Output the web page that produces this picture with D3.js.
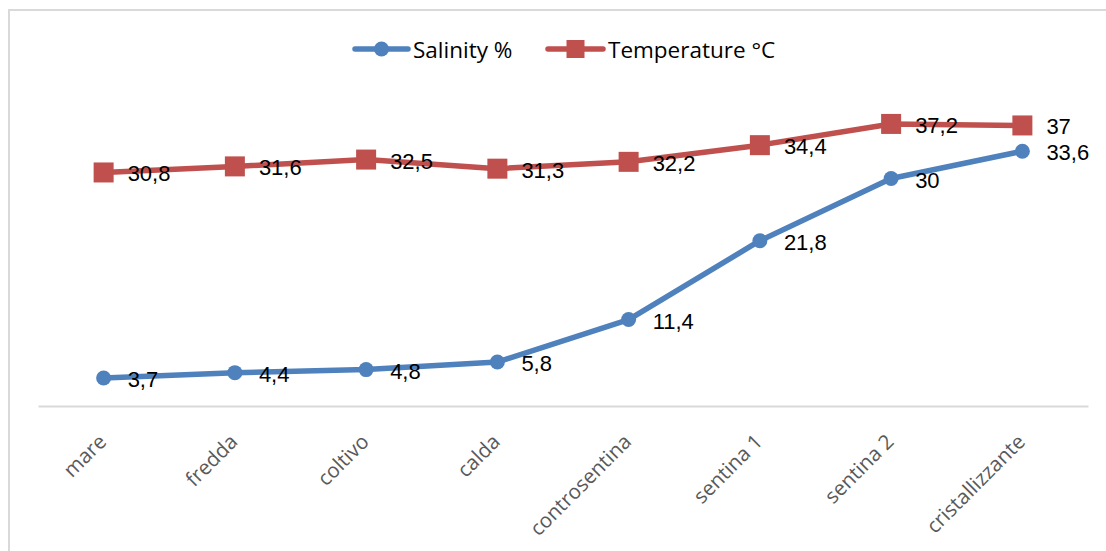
<!DOCTYPE html>
<html>
<head>
<meta charset="utf-8">
<script src="https://cdn.jsdelivr.net/npm/d3@7"></script>
<style>
  html, body { margin: 0; padding: 0; background: #fff; }
  svg { display: block; }
</style>
</head>
<body>
<svg id="chart" width="1106" height="551"></svg>
<script>
const categories = ["mare", "fredda", "coltivo", "calda", "controsentina", "sentina 1", "sentina 2", "cristallizzante"];
const salinity = [3.7, 4.4, 4.8, 5.8, 11.4, 21.8, 30, 33.6];
const temperature = [30.8, 31.6, 32.5, 31.3, 32.2, 34.4, 37.2, 37];
const seriesNames = ["Salinity %", "Temperature °C"];
const seriesColors = ["#4F81BD", "#C0504D"];

const svg = d3.select("#chart");
const W = 1106, H = 551;

// outer border
svg.append("rect")
  .attr("x", 9).attr("y", 10).attr("width", W + 10).attr("height", H + 10)
  .attr("fill", "none").attr("stroke", "#d9d9d9").attr("stroke-width", 2);

const x = d3.scaleBand().domain(categories).range([38, 1088]);
const y = d3.scaleLinear().domain([0, 40]).range([406, 102.7]);
const cx = c => x(c) + x.bandwidth() / 2;

// category axis
const xAxis = d3.axisBottom(x).tickSize(0).tickPadding(0);
const gx = svg.append("g").attr("transform", `translate(0,${y(0)})`).call(xAxis);
gx.select(".domain").attr("stroke", "#d9d9d9").attr("stroke-width", 2);
gx.selectAll(".tick text")
  .attr("font-family", "'Open Sans', sans-serif")
  .attr("font-size", 20.5)
  .attr("fill", "#595959")
  .attr("text-anchor", "end")
  .attr("dy", 0)
  .attr("transform", "translate(4,37) rotate(-45)");

const fmt = v => String(v).replace(".", ",");

const series = [
  { name: seriesNames[0], values: salinity, color: seriesColors[0], marker: "circle" },
  { name: seriesNames[1], values: temperature, color: seriesColors[1], marker: "square" }
];

const line = d3.line().x(d => cx(d.c)).y(d => y(d.v));

series.forEach(s => {
  const pts = categories.map((c, i) => ({ c, v: s.values[i] }));
  const g = svg.append("g");
  g.append("path").datum(pts)
    .attr("fill", "none").attr("stroke", s.color).attr("stroke-width", 5.5)
    .attr("stroke-linejoin", "round").attr("stroke-linecap", "round")
    .attr("d", line);
  if (s.marker === "circle") {
    g.selectAll("circle").data(pts).join("circle")
      .attr("cx", d => cx(d.c)).attr("cy", d => y(d.v)).attr("r", 7.5)
      .attr("fill", s.color);
  } else {
    g.selectAll("rect").data(pts).join("rect")
      .attr("x", d => cx(d.c) - 10).attr("y", d => y(d.v) - 10)
      .attr("width", 20).attr("height", 20)
      .attr("fill", s.color);
  }
  g.selectAll("text").data(pts).join("text")
    .attr("x", d => cx(d.c) + 24).attr("y", d => y(d.v) + 1.5)
    .attr("dominant-baseline", "central")
    .attr("font-family", "'Liberation Sans', Arial, sans-serif")
    .attr("font-size", 22)
    .attr("fill", "#000")
    .text(d => fmt(d.v));
});

// legend
const legendItems = [
  { x0: 355, x1: 408, tx: 413, s: series[0] },
  { x0: 548, x1: 603, tx: 608, s: series[1] }
];
const ly = 49;
legendItems.forEach(it => {
  const g = svg.append("g");
  g.append("line").attr("x1", it.x0).attr("x2", it.x1).attr("y1", ly).attr("y2", ly)
    .attr("stroke", it.s.color).attr("stroke-width", 5.5).attr("stroke-linecap", "round");
  const mx = (it.x0 + it.x1) / 2;
  if (it.s.marker === "circle") {
    g.append("circle").attr("cx", mx).attr("cy", ly).attr("r", 7.5).attr("fill", it.s.color);
  } else {
    g.append("rect").attr("x", mx - 9).attr("y", ly - 9).attr("width", 18).attr("height", 18).attr("fill", it.s.color);
  }
  g.append("text").attr("x", it.tx).attr("y", ly)
    .attr("dominant-baseline", "central")
    .attr("font-family", "'Open Sans', sans-serif")
    .attr("font-size", 22.5)
    .attr("fill", "#000")
    .text(it.s.name);
});
</script>
</body>
</html>
